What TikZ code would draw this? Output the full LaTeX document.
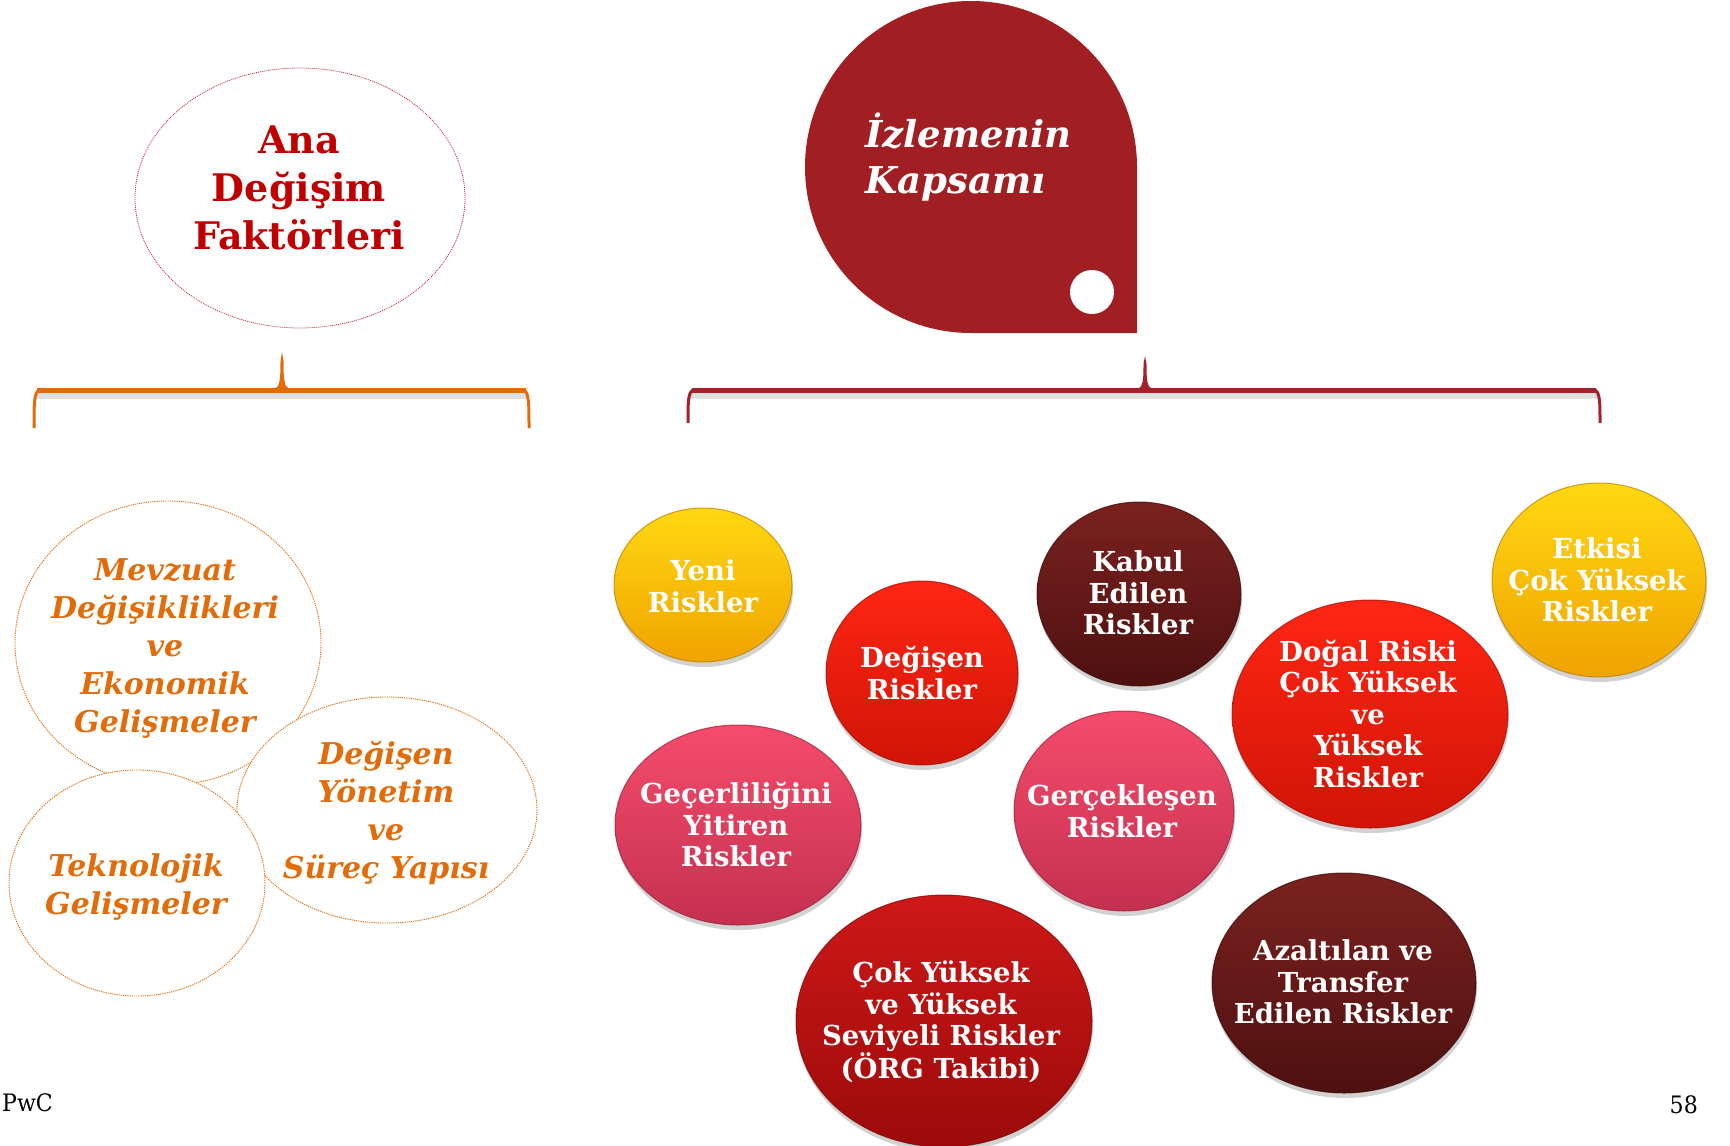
\documentclass[tikz,border=0pt]{standalone}
\usepackage{fontspec}
\newfontfamily\geo{DejaVu Serif}
\newfontfamily\geon{DejaVu Serif}[FakeStretch=0.92]
\usetikzlibrary{shapes.geometric,shadows}

% palette
\definecolor{ylwT}{HTML}{FFD812}
\definecolor{ylwB}{HTML}{F0A300}
\definecolor{ylwE}{HTML}{B87E00}
\definecolor{redT}{HTML}{FF2614}
\definecolor{redB}{HTML}{D01406}
\definecolor{redE}{HTML}{A00E04}
\definecolor{marT}{HTML}{7A2220}
\definecolor{marB}{HTML}{4E1010}
\definecolor{marE}{HTML}{3A0A0A}
\definecolor{pnkT}{HTML}{F54C6C}
\definecolor{pnkB}{HTML}{C53050}
\definecolor{pnkE}{HTML}{9A2038}
\definecolor{drdT}{HTML}{CE1818}
\definecolor{drdB}{HTML}{9C0A0A}
\definecolor{drdE}{HTML}{7E0606}
\definecolor{orng}{HTML}{E36C0A}
\definecolor{ttl}{HTML}{C00000}
\definecolor{ttlLine}{HTML}{C8283E}
\definecolor{drop}{HTML}{A11F23}
\definecolor{brRed}{HTML}{A3222A}

\tikzset{
  ball/.style={ellipse, inner sep=0pt, line width=1pt, draw opacity=0.7,
    drop shadow={opacity=0.35, shadow xshift=1pt, shadow yshift=-5pt}},
  yball/.style={ball, top color=ylwT, bottom color=ylwB, draw=ylwE},
  rball/.style={ball, top color=redT, bottom color=redB, draw=redE},
  mball/.style={ball, top color=marT, bottom color=marB, draw=marE},
  pball/.style={ball, top color=pnkT, bottom color=pnkB, draw=pnkE},
  dball/.style={ball, top color=drdT, bottom color=drdB, draw=drdE},
  btxt/.style={text=white, align=center, inner sep=0pt,
    font=\geo\bfseries\fontsize{27.5}{31.5}\selectfont},
  fcirc/.style={ellipse, inner sep=0pt, fill=white, draw=orng,
    line width=0.9pt, dash pattern=on 1.2pt off 1pt},
  ftxt/.style={text=orng, align=center, inner sep=0pt,
    font=\geo\bfseries\itshape\fontsize{30}{38}\selectfont},
  brkshadow/.style={line width=6pt, black, opacity=0.12},
}

\begin{document}
\begin{tikzpicture}[x=1pt,y=-1pt]
\useasboundingbox (0,0) rectangle (1730,1146);
\fill[white] (0,0) rectangle (1730,1146);

% ---------- title ellipse ----------
\node[ellipse, inner sep=0pt, minimum width=330pt, minimum height=260pt,
  draw=ttlLine, line width=0.8pt, dash pattern=on 1pt off 1pt] (ana) at (300,198) {};
\node[text=ttl, align=center, inner sep=0pt,
  font=\geo\bfseries\fontsize{38}{48}\selectfont] (ana-t) at (299,188)
  {Ana\\Değişim\\Faktörleri};

% ---------- drop shape ----------
\fill[drop] (1137,167) -- (1137,333) -- (971,333)
  arc[start angle=90, end angle=360, radius=166] -- cycle;
\coordinate (izl) at (971,167);
\node[circle, fill=white, minimum size=44pt, inner sep=0pt] (dot) at (1092,292) {};
\node[text=white, align=left, inner sep=0pt, anchor=base west,
  font=\geo\bfseries\itshape\fontsize{37}{46}\selectfont] (izl-t) at (865,193)
  {İzlemenin\\Kapsamı};

% ---------- orange bracket ----------
\draw[brkshadow] (36,396) -- (527,396);
\draw[orng, line width=5pt] (37,390) -- (526,390);
\draw[orng, line width=3pt] (34,428) .. controls (34,404) and (34,393) .. (39,390);
\draw[orng, line width=3pt] (529,428) .. controls (529,404) and (529,393) .. (524,390);
\fill[orng] (274,389) .. controls (280,388) and (280.5,378) .. (280.5,361)
  -- (282,352) -- (283.5,361) .. controls (283.5,378) and (284,388) .. (290,389) -- cycle;

% ---------- red bracket ----------
\draw[brkshadow] (690,396) -- (1598,396);
\draw[brRed, line width=5pt] (692,390) -- (1596,390);
\draw[brRed, line width=3pt] (688,423) .. controls (688,402) and (688,393) .. (693,390);
\draw[brRed, line width=3pt] (1600,423) .. controls (1600,402) and (1600,393) .. (1595,390);
\fill[brRed] (1137,389) .. controls (1143,388) and (1143.5,380) .. (1143.5,364)
  -- (1145,356) -- (1146.5,364) .. controls (1146.5,380) and (1147,388) .. (1153,389) -- cycle;

% ---------- change factors ----------
\node[fcirc, minimum width=306pt, minimum height=284pt] (mevz) at (168,643) {};
\node[fcirc, minimum width=300pt, minimum height=226pt] (yonet) at (387,810) {};
\node[fcirc, minimum width=256pt, minimum height=226pt] (tekno) at (137,883) {};
\node[ftxt] (mevz-t) at (165,648) {Mevzuat\\Değişiklikleri\\ve\\Ekonomik\\Gelişmeler};
\node[ftxt] (yonet-t) at (386,813) {Değişen\\Yönetim\\ve\\Süreç Yapısı};
\node[ftxt] (tekno-t) at (136,887) {Teknolojik\\Gelişmeler};

% ---------- monitored risks ----------
\node[yball, minimum width=178pt, minimum height=154pt] (yeni) at (703,585) {};
\node[btxt] (yeni-t) at (703,586) {Yeni\\Riskler};

\node[rball, minimum width=192pt, minimum height=184pt] (degisen) at (922,673) {};
\node[btxt] (degisen-t) at (922,673) {Değişen\\Riskler};

\node[mball, minimum width=204pt, minimum height=184pt] (kabul) at (1139,594) {};
\node[btxt] (kabul-t) at (1138,593) {Kabul\\Edilen\\Riskler};

\node[yball, minimum width=214pt, minimum height=194pt] (etkisi) at (1599,580) {};
\node[btxt] (etkisi-t) at (1597,580) {Etkisi\\Çok Yüksek\\Riskler};

\node[rball, minimum width=276pt, minimum height=228pt] (dogal) at (1370,714) {};
\node[btxt] (dogal-t) at (1368,714) {Doğal Riski\\Çok Yüksek\\ve\\Yüksek\\Riskler};

\node[pball, minimum width=246pt, minimum height=200pt] (gecer) at (738,825) {};
\node[btxt] (gecer-t) at (736,825) {Geçerliliğini\\Yitiren\\Riskler};

\node[pball, minimum width=220pt, minimum height=200pt] (gerc) at (1124,811) {};
\node[btxt] (gerc-t) at (1122,811) {Gerçekleşen\\Riskler};

\node[dball, minimum width=296pt, minimum height=252pt] (orgt) at (944,1021) {};
\node[btxt] (orgt-t) at (941,1022) {Çok Yüksek\\ve Yüksek\\Seviyeli Riskler\\(ÖRG Takibi)};

\node[mball, minimum width=264pt, minimum height=220pt] (azal) at (1344,983) {};
\node[btxt] (azal-t) at (1343,982) {Azaltılan ve\\Transfer\\Edilen Riskler};

% ---------- footer ----------
\node[anchor=base west, inner sep=0pt, font=\geon\fontsize{24}{28}\selectfont] (pwc) at (2,1111) {PwC};
\node[anchor=base east, inner sep=0pt, font=\geon\fontsize{24}{28}\selectfont] (page) at (1698,1113) {58};
\end{tikzpicture}
\end{document}
